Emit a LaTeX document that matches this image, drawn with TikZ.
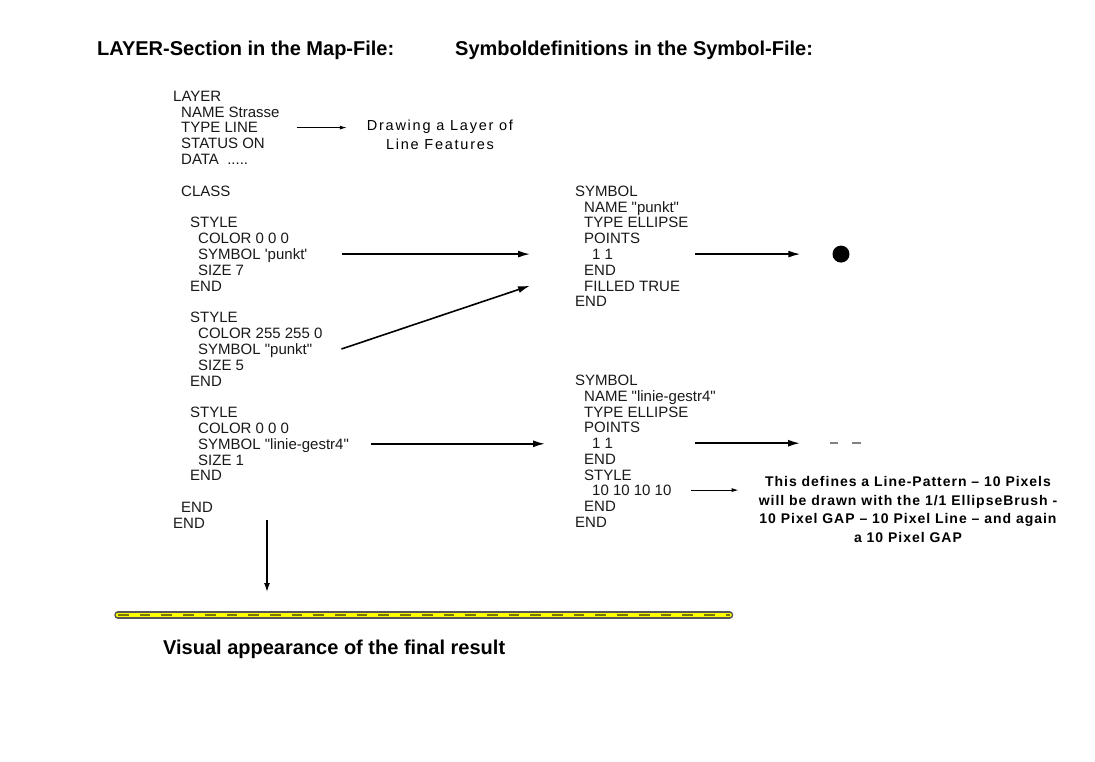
\documentclass[tikz,border=0pt]{standalone}
\usepackage{fontspec}
\setmainfont{Liberation Sans}
\newfontfamily\widefont[LetterSpace=12]{Liberation Sans}
\newfontfamily\wideboldfont[LetterSpace=7]{Liberation Sans Bold}
\usepackage{xcolor}
\usepackage{tikz}
\usetikzlibrary{arrows.meta}

\definecolor{lineyellow}{RGB}{255,255,0}
\definecolor{lineolive}{RGB}{120,120,0}
\definecolor{lineedge}{RGB}{85,85,85}
\definecolor{dashgray}{RGB}{130,130,130}

\newcommand{\qd}{\textquotedbl}
\newcommand{\qs}{\textquotesingle}

\begin{document}
\begin{tikzpicture}[x=1pt, y=-1pt,
	code/.style={anchor=west, inner sep=0pt, text height=10.8pt, text depth=0pt, font=\fontsize{15}{16}\selectfont, text=black!90},
	heading/.style={anchor=west, inner sep=0pt, font=\fontsize{20}{22}\selectfont\bfseries},
	bigarr/.style={-{Latex[length=12pt,width=7pt]}, line width=1.6pt},
	thinarr/.style={-{Latex[length=7pt,width=4pt]}, line width=0.9pt}]

	\fill[white] (0,0) rectangle (1095,762);
	\useasboundingbox (0,0) rectangle (1095,762);

	% headings
	\node[heading] (head-map) at (97,50) {LAYER-Section in the Map-File:};
	\node[heading] (head-sym) at (455,50) {Symboldefinitions in the Symbol-File:};

	% LAYER section
	\def \xa {173}
	\def \xb {181}
	\def \xc {190}
	\def \xd {198}
	\node[code] (lay-0) at (\xa,96) {LAYER};
	\node[code] (lay-1) at (\xb,111.8) {NAME Strasse};
	\node[code] (lay-2) at (\xb,127.6) {TYPE LINE};
	\node[code] (lay-3) at (\xb,143.4) {STATUS ON};
	\node[code] (lay-4) at (\xb,159.2) {DATA\ \ .....};
	\node[code] (lay-6) at (\xb,190.9) {CLASS};
	\node[code] (lay-8) at (\xc,222.5) {STYLE};
	\node[code] (lay-9) at (\xd,238.3) {COLOR 0 0 0};
	\node[code] (lay-10) at (\xd,254.1) {SYMBOL \qs punkt\qs};
	\node[code] (lay-11) at (\xd,269.9) {SIZE 7};
	\node[code] (lay-12) at (\xc,285.7) {END};
	\node[code] (lay-14) at (\xc,317.3) {STYLE};
	\node[code] (lay-15) at (\xd,333.2) {COLOR 255 255 0};
	\node[code] (lay-16) at (\xd,349.0) {SYMBOL \qd punkt\qd};
	\node[code] (lay-17) at (\xd,364.8) {SIZE 5};
	\node[code] (lay-18) at (\xc,380.6) {END};
	\node[code] (lay-20) at (\xc,412.2) {STYLE};
	\node[code] (lay-21) at (\xd,428.0) {COLOR 0 0 0};
	\node[code] (lay-22) at (\xd,443.8) {SYMBOL \qd linie-gestr4\qd};
	\node[code] (lay-23) at (\xd,459.6) {SIZE 1};
	\node[code] (lay-24) at (\xc,475.4) {END};
	\node[code] (lay-26) at (\xb,507.1) {END};
	\node[code] (lay-27) at (\xa,522.9) {END};

	% symbol punkt
	\def \xa {575}
	\def \xb {584}
	\def \xc {592}
	\node[code] (sa-0) at (\xa,190.9) {SYMBOL};
	\node[code] (sa-1) at (\xb,206.7) {NAME \qd punkt\qd};
	\node[code] (sa-2) at (\xb,222.5) {TYPE ELLIPSE};
	\node[code] (sa-3) at (\xb,238.3) {POINTS};
	\node[code] (sa-4) at (\xc,254.1) {1 1};
	\node[code] (sa-5) at (\xb,269.9) {END};
	\node[code] (sa-6) at (\xb,285.7) {FILLED TRUE};
	\node[code] (sa-7) at (\xa,301.5) {END};

	% symbol linie-gestr4
	\node[code] (sb-0) at (\xa,380) {SYMBOL};
	\node[code] (sb-1) at (\xb,395.8) {NAME \qd linie-gestr4\qd};
	\node[code] (sb-2) at (\xb,411.6) {TYPE ELLIPSE};
	\node[code] (sb-3) at (\xb,427.4) {POINTS};
	\node[code] (sb-4) at (\xc,443.2) {1 1};
	\node[code] (sb-5) at (\xb,459.0) {END};
	\node[code] (sb-6) at (\xb,474.8) {STYLE};
	\node[code] (sb-7) at (\xc,490.1) {10 10 10 10};
	\node[code] (sb-8) at (\xb,505.9) {END};
	\node[code] (sb-9) at (\xa,521.7) {END};

	% explanations
	\node[inner sep=0pt, align=center, font=\widefont\fontsize{14.5}{18.5}\selectfont] (drawlayer) at (440,135) {Drawing a Layer of\\Line Features};
	\node[inner sep=0pt, align=center, font=\wideboldfont\fontsize{14}{18.5}\selectfont] (descr) at (908,509.7) {This defines a Line-Pattern – 10 Pixels\\will be drawn with the 1/1 EllipseBrush -\\10 Pixel GAP – 10 Pixel Line – and again\\a 10 Pixel GAP};

	% results of the symbols
	\node[circle, fill=black, minimum size=17pt, inner sep=0pt] (dot) at (841,254.1) {};
	\coordinate (dashsym) at (830,443.2);
	\draw[dashgray, line width=2pt] (830,443.2) -- (838,443.2) (852,443.2) -- (861,443.2);

	% arrows
	\draw[thinarr, shorten >=20pt] ([xshift=39pt]lay-2.east) -- (lay-2.east -| drawlayer.west);
	\draw[bigarr] ([xshift=34pt]lay-10.east) -- ([xshift=-62pt]sa-4.west);
	\draw[bigarr] ([xshift=29pt]lay-16.east) -- ([xshift=-54pt]sa-6.west);
	\draw[bigarr, shorten >=47pt] ([xshift=22pt]lay-22.east) -- (lay-22.east -| sb-4.west);
	\draw[bigarr, shorten >=32pt] ([xshift=82pt]sa-4.east) -- (dot.west);
	\draw[bigarr, shorten >=30pt] ([xshift=82pt]sb-4.east) -- (dashsym);
	\draw[thinarr, shorten >=20pt] ([xshift=19pt]sb-7.east) -- (sb-7.east -| descr.west);

	% final line
	\coordinate (res-l) at (118,615);
	\coordinate (res-r) at (729.5,615);
	\coordinate (down-top) at (267,520);
	\coordinate (down-bot) at (267,592);
	\draw[-{Latex[length=9pt,width=6pt]}, line width=1.4pt] (down-top) -- (down-bot);
	\draw[lineedge, line width=7.5pt, line cap=round] (res-l) -- (res-r);
	\draw[lineyellow, line width=4.5pt, line cap=round] (res-l) -- (res-r);
	\draw[lineolive, line width=2.2pt, dash pattern=on 10.7pt off 11pt] (res-l) -- (res-r);
	\node[heading] (result) at (163,649) {Visual appearance of the final result};

\end{tikzpicture}
\end{document}
